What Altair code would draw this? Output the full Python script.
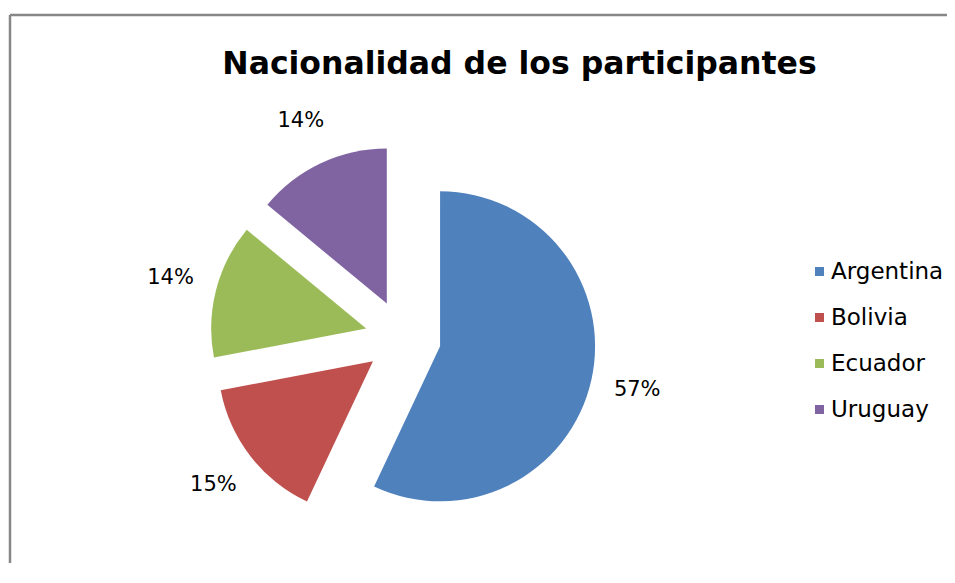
import altair as alt
import pandas as pd

# ---- data ----
categories = ["Argentina", "Bolivia", "Ecuador", "Uruguay"]
values = [57, 15, 14, 14]
colors = ["#4F81BD", "#C0504D", "#9BBB59", "#8064A2"]
title_text = "Nacionalidad de los participantes"

# ---- layout (pixels of the plot area) ----
W, H = 939, 555
CX, CY = 395, 330      # centre of the pie inside the plot area
R = 155                # pie radius
EXPLODE = 38           # distance each slice is pulled out
LABEL_R = 240          # distance of the % labels from the centre

df = pd.DataFrame({"pais": categories, "valor": values,
                   "orden": list(range(len(categories)))})

xs = alt.Scale(domain=[-CX, W - CX])
ys = alt.Scale(domain=[-(H - CY), CY])

base = (
    alt.Chart(df)
    .transform_joinaggregate(total="sum(valor)")
    .transform_window(cum="sum(valor)", sort=[alt.SortField("orden")], frame=[None, 0])
    .transform_calculate(t1="datum.cum / datum.total * 2 * PI")
    .transform_calculate(t0="(datum.cum - datum.valor) / datum.total * 2 * PI")
    .transform_calculate(mid="(datum.t0 + datum.t1) / 2")
    .transform_calculate(cx=f"sin(datum.mid) * {EXPLODE}")
    .transform_calculate(cy=f"cos(datum.mid) * {EXPLODE}")
    .transform_calculate(lx=f"sin(datum.mid) * {LABEL_R}")
    .transform_calculate(ly=f"cos(datum.mid) * {LABEL_R}")
    .transform_calculate(pct="format(datum.valor / datum.total, '.0%')")
)

arcs = base.mark_arc(radius=R).encode(
    x=alt.X("cx:Q", scale=xs, axis=None),
    y=alt.Y("cy:Q", scale=ys, axis=None),
    theta=alt.Theta("t0:Q", scale=None, stack=None),
    theta2=alt.Theta2("t1:Q"),
    color=alt.Color(
        "pais:N",
        scale=alt.Scale(domain=categories, range=colors),
        sort=categories,
        legend=alt.Legend(
            title=None, orient="none", legendX=800, legendY=252,
            symbolType="square", symbolSize=81, symbolStrokeWidth=0,
            labelFont="DejaVu Sans", labelFontSize=23, labelColor="#000000",
            labelOffset=0, rowPadding=22, padding=0, labelLimit=200,
        ),
    ),
)

labels = base.mark_text(font="DejaVu Sans", fontSize=21, color="#000000",
                        align="center", baseline="middle").encode(
    x=alt.X("lx:Q", scale=xs, axis=None),
    y=alt.Y("ly:Q", scale=ys, axis=None),
    text="pct:N",
)

title = alt.Chart(pd.DataFrame({"t": [title_text]})).mark_text(
    font="DejaVu Sans", fontWeight="bold", fontSize=31.5, color="#000000",
    align="center", baseline="alphabetic",
).encode(x=alt.value(511.5), y=alt.value(66), text="t:N")

one = pd.DataFrame({"a": [0]})
border_left = alt.Chart(one).mark_rule(color="#878787", strokeWidth=2.5).encode(
    x=alt.value(2), y=alt.value(7), y2=alt.value(H))
border_top = alt.Chart(one).mark_rule(color="#878787", strokeWidth=2.5).encode(
    x=alt.value(2), x2=alt.value(W), y=alt.value(7))

chart = (
    alt.layer(border_left, border_top, arcs, labels, title)
    .properties(width=W, height=H, padding=0, autosize="none")
    .configure_view(stroke=None)
)

chart.save("out.html", embed_options={"renderer": "svg", "actions": False})
